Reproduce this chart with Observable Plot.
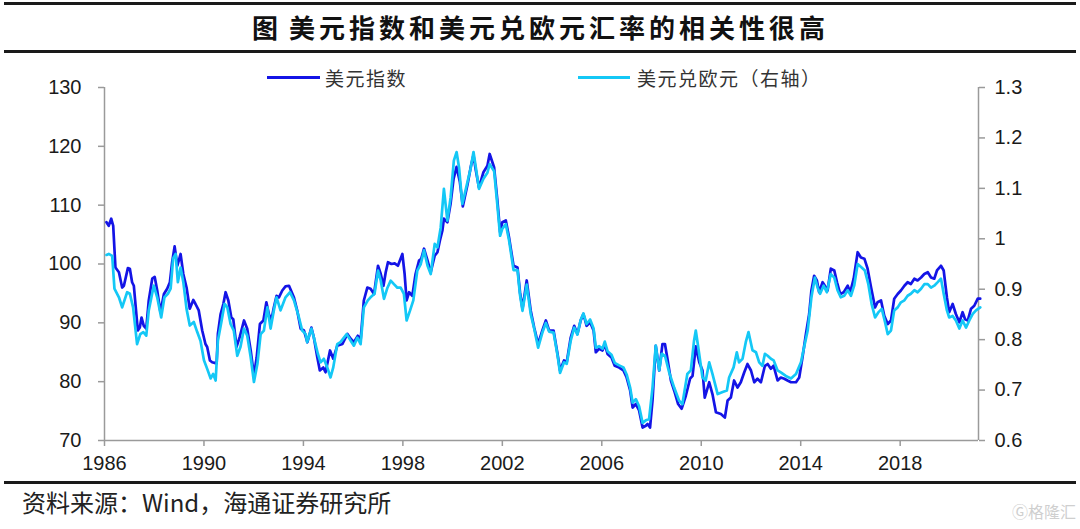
<!DOCTYPE html>
<html><head><meta charset="utf-8">
<script src="https://cdn.jsdelivr.net/npm/d3@7"></script>
<script src="https://cdn.jsdelivr.net/npm/@observablehq/plot@0.6"></script>
<style>
body{margin:0;background:#fff;}
#wrap{position:relative;width:1080px;height:529px;overflow:hidden;background:#fff;}
#wrap svg{position:absolute;left:0;top:0;}
.hl{position:absolute;background:#1a1a1a;}
.cjk{font-family:"Noto Sans CJK SC","Noto Sans",sans-serif;color:#222;white-space:nowrap;position:absolute;}
.leg{position:absolute;height:3px;}
</style></head>
<body><div id="wrap"></div>
<script>
// ---- data ----
const dxyYears = [1986.08,1986.17,1986.27,1986.35,1986.44,1986.58,1986.71,1986.78,1986.94,1987.02,1987.11,1987.18,1987.34,1987.42,1987.49,1987.58,1987.68,1987.78,1987.92,1988.02,1988.12,1988.25,1988.39,1988.52,1988.63,1988.72,1988.82,1988.93,1989.06,1989.17,1989.30,1989.43,1989.57,1989.66,1989.79,1989.93,1990.06,1990.13,1990.24,1990.33,1990.43,1990.51,1990.56,1990.67,1990.78,1990.87,1990.98,1991.10,1991.18,1991.31,1991.44,1991.61,1991.74,1991.88,1992.01,1992.12,1992.25,1992.39,1992.51,1992.61,1992.71,1992.81,1992.92,1993.01,1993.15,1993.28,1993.42,1993.62,1993.75,1993.89,1994.02,1994.16,1994.32,1994.42,1994.56,1994.66,1994.80,1994.89,1995.07,1995.20,1995.36,1995.57,1995.77,1995.90,1996.03,1996.19,1996.30,1996.43,1996.57,1996.70,1996.84,1997.00,1997.11,1997.22,1997.31,1997.40,1997.54,1997.67,1997.80,1997.98,1998.07,1998.15,1998.25,1998.38,1998.51,1998.65,1998.74,1998.85,1998.99,1999.12,1999.28,1999.39,1999.49,1999.59,1999.65,1999.79,1999.92,2000.04,2000.16,2000.29,2000.41,2000.60,2000.73,2000.84,2000.93,2001.06,2001.24,2001.40,2001.49,2001.67,2001.80,2001.91,2002.00,2002.14,2002.27,2002.45,2002.61,2002.71,2002.81,2002.98,2003.14,2003.28,2003.44,2003.61,2003.75,2003.88,2004.06,2004.22,2004.32,2004.48,2004.59,2004.75,2004.89,2005.02,2005.15,2005.26,2005.39,2005.53,2005.67,2005.76,2005.89,2006.03,2006.12,2006.23,2006.39,2006.52,2006.70,2006.87,2007.00,2007.14,2007.24,2007.37,2007.50,2007.64,2007.77,2007.84,2007.94,2008.04,2008.17,2008.31,2008.44,2008.54,2008.64,2008.78,2008.91,2009.07,2009.21,2009.38,2009.55,2009.65,2009.78,2009.92,2010.05,2010.14,2010.32,2010.45,2010.59,2010.79,2010.95,2011.06,2011.19,2011.32,2011.46,2011.59,2011.73,2011.86,2012.00,2012.13,2012.26,2012.40,2012.56,2012.67,2012.80,2012.91,2013.07,2013.20,2013.34,2013.47,2013.61,2013.81,2013.94,2014.07,2014.21,2014.34,2014.43,2014.54,2014.65,2014.74,2014.88,2014.97,2015.08,2015.21,2015.35,2015.46,2015.59,2015.73,2015.89,2015.99,2016.13,2016.29,2016.42,2016.56,2016.69,2016.83,2016.99,2017.09,2017.23,2017.36,2017.50,2017.63,2017.76,2017.90,2018.03,2018.17,2018.30,2018.43,2018.57,2018.70,2018.84,2018.97,2019.11,2019.24,2019.37,2019.48,2019.64,2019.75,2019.88,2019.97,2020.11,2020.24,2020.38,2020.51,2020.61,2020.72,2020.85,2020.98,2021.12,2021.22];
const dxyValues = [107.1,106.5,107.7,106.5,99.4,98.6,96.0,96.3,99.3,99.2,96.9,96.3,88.7,89.2,90.9,89.5,89.0,93.8,97.5,97.8,95.5,91.8,94.9,95.8,96.9,100.3,103.0,99.7,101.7,98.3,96.0,92.4,93.9,93.2,92.1,88.7,86.4,85.9,83.6,83.3,83.2,83.1,88.1,91.5,93.2,95.2,93.8,90.9,90.6,85.9,87.6,90.4,89.0,85.3,81.0,84.1,89.8,90.4,93.5,91.5,90.4,92.6,94.6,94.3,95.5,96.2,96.3,94.3,92.1,89.0,88.7,86.7,89.2,87.5,84.1,81.9,82.4,81.6,85.3,83.9,86.1,86.4,88.1,87.3,86.7,87.8,87.0,93.8,96.0,95.8,94.9,99.7,98.3,96.3,98.6,100.3,100.0,100.1,99.7,101.7,98.3,93.8,95.2,94.6,98.3,100.6,100.9,102.6,100.6,98.6,101.4,102.0,104.0,105.7,107.7,107.1,110.3,114.5,116.5,114.0,109.8,113.5,116.5,118.5,116.0,113.0,115.6,116.7,118.7,116.4,110.8,105.4,107.1,107.4,104.5,99.7,99.4,95.2,92.4,97.2,92.1,89.2,86.4,88.7,90.4,88.7,88.7,84.7,81.9,83.6,83.3,87.5,89.5,88.1,90.4,91.5,89.5,90.1,88.7,85.0,85.6,85.3,86.4,84.7,84.1,82.7,82.4,81.9,80.7,78.5,75.6,76.2,75.1,72.2,72.5,72.8,72.2,76.8,86.1,81.9,86.4,86.4,83.9,80.2,78.5,76.2,75.4,77.6,80.5,81.0,86.0,83.3,81.9,77.3,79.9,77.9,74.8,74.5,73.9,76.8,77.3,80.2,79.0,79.9,81.6,83.0,81.9,79.9,80.5,79.9,82.7,83.0,82.2,82.7,80.2,80.7,80.5,80.2,79.9,79.9,80.7,84.1,88.1,91.5,95.5,98.0,97.2,95.2,96.9,96.3,95.5,99.2,98.9,96.9,94.9,95.2,96.3,95.2,97.5,102.0,101.1,100.9,99.2,96.0,92.6,93.5,93.8,91.2,89.8,90.4,94.1,94.9,95.5,96.3,96.9,96.6,97.5,97.2,97.7,98.3,98.6,97.7,97.5,98.9,99.7,98.9,94.3,91.8,93.2,91.5,90.1,91.8,90.6,90.4,92.4,92.9,94.1,94.1];

const eurYears = [1986.08,1986.17,1986.31,1986.40,1986.58,1986.71,1986.91,1987.02,1987.15,1987.31,1987.44,1987.56,1987.68,1987.78,1987.98,1988.12,1988.28,1988.41,1988.55,1988.66,1988.76,1988.86,1988.95,1989.06,1989.17,1989.30,1989.43,1989.59,1989.73,1989.86,1990.00,1990.13,1990.27,1990.37,1990.47,1990.56,1990.70,1990.83,1990.94,1991.07,1991.20,1991.34,1991.47,1991.61,1991.74,1991.88,1992.01,1992.15,1992.28,1992.41,1992.55,1992.68,1992.81,1992.92,1993.08,1993.28,1993.46,1993.62,1993.82,1993.95,1994.09,1994.15,1994.32,1994.42,1994.58,1994.69,1994.82,1994.96,1995.09,1995.20,1995.36,1995.49,1995.74,1995.90,1996.03,1996.17,1996.30,1996.43,1996.59,1996.70,1996.86,1997.00,1997.11,1997.24,1997.38,1997.51,1997.64,1997.78,1997.91,1998.04,1998.15,1998.29,1998.42,1998.58,1998.72,1998.85,1998.99,1999.12,1999.28,1999.39,1999.52,1999.65,1999.79,1999.92,2000.05,2000.16,2000.26,2000.39,2000.52,2000.73,2000.84,2000.93,2001.06,2001.24,2001.40,2001.49,2001.67,2001.80,2001.91,2002.00,2002.14,2002.27,2002.45,2002.61,2002.71,2002.81,2002.98,2003.14,2003.28,2003.44,2003.61,2003.75,2003.88,2004.06,2004.22,2004.32,2004.48,2004.59,2004.75,2004.89,2005.02,2005.15,2005.26,2005.39,2005.53,2005.67,2005.76,2005.89,2006.03,2006.12,2006.23,2006.39,2006.52,2006.70,2006.87,2007.00,2007.14,2007.24,2007.37,2007.50,2007.64,2007.77,2007.90,2008.04,2008.17,2008.31,2008.41,2008.54,2008.71,2008.91,2009.11,2009.24,2009.44,2009.58,2009.71,2009.78,2009.87,2010.05,2010.18,2010.32,2010.45,2010.66,2010.86,2011.03,2011.12,2011.30,2011.43,2011.52,2011.66,2011.79,2011.90,2012.06,2012.20,2012.33,2012.46,2012.56,2012.67,2012.80,2012.91,2013.07,2013.20,2013.40,2013.61,2013.81,2014.01,2014.14,2014.28,2014.43,2014.57,2014.68,2014.78,2014.92,2015.05,2015.21,2015.35,2015.48,2015.61,2015.75,2015.89,2016.02,2016.15,2016.29,2016.45,2016.58,2016.72,2016.85,2016.99,2017.12,2017.26,2017.39,2017.50,2017.63,2017.76,2017.90,2018.03,2018.17,2018.30,2018.43,2018.57,2018.70,2018.84,2018.97,2019.11,2019.24,2019.37,2019.51,2019.64,2019.75,2019.88,2019.97,2020.11,2020.24,2020.38,2020.51,2020.65,2020.78,2020.92,2021.05,2021.22];
const eurValues = [0.968,0.970,0.966,0.901,0.884,0.864,0.894,0.891,0.864,0.791,0.811,0.815,0.808,0.858,0.907,0.884,0.844,0.884,0.891,0.901,0.961,0.970,0.914,0.943,0.914,0.861,0.828,0.835,0.815,0.798,0.759,0.742,0.723,0.732,0.719,0.798,0.835,0.871,0.864,0.831,0.818,0.768,0.786,0.822,0.808,0.765,0.716,0.752,0.811,0.818,0.864,0.822,0.858,0.884,0.858,0.884,0.894,0.878,0.844,0.818,0.811,0.795,0.822,0.804,0.772,0.755,0.762,0.745,0.725,0.745,0.791,0.795,0.811,0.798,0.788,0.804,0.791,0.864,0.878,0.884,0.891,0.937,0.917,0.881,0.903,0.917,0.910,0.903,0.903,0.891,0.838,0.858,0.878,0.937,0.950,0.977,0.947,0.930,0.990,0.983,1.022,1.099,1.036,1.082,1.155,1.172,1.141,1.069,1.096,1.141,1.172,1.143,1.099,1.119,1.131,1.148,1.134,1.067,1.006,1.020,1.029,0.997,0.938,0.938,0.889,0.857,0.909,0.851,0.822,0.784,0.814,0.833,0.816,0.814,0.769,0.734,0.755,0.752,0.798,0.824,0.810,0.839,0.852,0.831,0.840,0.822,0.784,0.787,0.782,0.796,0.777,0.770,0.754,0.749,0.745,0.731,0.705,0.675,0.682,0.668,0.635,0.640,0.642,0.705,0.788,0.739,0.772,0.768,0.735,0.705,0.679,0.672,0.732,0.739,0.798,0.818,0.788,0.725,0.719,0.755,0.732,0.692,0.696,0.699,0.725,0.745,0.775,0.755,0.762,0.795,0.815,0.779,0.775,0.755,0.748,0.772,0.768,0.762,0.759,0.739,0.735,0.728,0.723,0.732,0.755,0.786,0.818,0.884,0.923,0.903,0.891,0.907,0.894,0.930,0.923,0.898,0.884,0.887,0.898,0.887,0.907,0.950,0.943,0.937,0.910,0.871,0.844,0.854,0.861,0.835,0.811,0.818,0.858,0.864,0.874,0.878,0.887,0.891,0.898,0.894,0.901,0.910,0.910,0.903,0.907,0.914,0.921,0.891,0.858,0.844,0.847,0.838,0.822,0.838,0.824,0.838,0.851,0.858,0.864];

const xTicks = [1986,1990,1994,1998,2002,2006,2010,2014,2018];
const leftTicks = [70,80,90,100,110,120,130];
const rightTicks = [0.6,0.7,0.8,0.9,1.0,1.1,1.2,1.3];
const seriesNames = ["美元指数","美元兑欧元（右轴）"];
const titleText = "美元指数和美元兑欧元汇率的相关性很高";
const sourceText = "资料来源：Wind，海通证券研究所";

// ---- build ----
const leftDomain = [70,130], rightDomain = [0.6,1.3];
const toLeft = e => leftDomain[0] + (e - rightDomain[0]) * (leftDomain[1]-leftDomain[0])/(rightDomain[1]-rightDomain[0]);
const dxy = dxyYears.map((t,i)=>({t, v: dxyValues[i]}));
const eur = eurYears.map((t,i)=>({t, e: eurValues[i]}));
const xEnd = 2021.15;
const DARK = "#1414e6", CYAN = "#14c8f6", AX = "#9a9a9a";

const chart = Plot.plot({
  width:1080, height:529,
  marginTop:87, marginBottom:89, marginLeft:104, marginRight:102,
  style:{fontFamily:"'Liberation Sans Narrow','Liberation Sans',Arial,sans-serif", fontSize:"20px", color:"#1a1a1a", background:"transparent"},
  x:{domain:[1986,xEnd], axis:null},
  y:{domain:leftDomain, axis:null},
  marks:[
    Plot.ruleX([1986],{stroke:AX, strokeWidth:1.5}),
    Plot.ruleX([xEnd],{stroke:AX, strokeWidth:1.5}),
    Plot.ruleY([70],{stroke:AX, strokeWidth:1.5}),
    Plot.axisX({ticks:xTicks, tickFormat:d=>String(d), label:null, tickSize:6, tickPadding:9, stroke:AX, strokeWidth:1.5, fill:"#1a1a1a", fontSize:20}),
    Plot.axisY({anchor:"left", ticks:leftTicks, tickFormat:d=>String(d), label:null, tickSize:6, tickPadding:17, stroke:AX, strokeWidth:1.5, fill:"#1a1a1a", fontSize:20}),
    Plot.axisY({anchor:"right", ticks:rightTicks.map(toLeft), tickFormat:(d,i)=>String(+rightTicks[i].toFixed(1)), label:null, tickSize:6, tickPadding:10, stroke:AX, strokeWidth:1.5, fill:"#1a1a1a", fontSize:20}),
    Plot.line(dxy,{x:"t", y:"v", stroke:DARK, strokeWidth:2.7, strokeLinejoin:"round"}),
    Plot.line(eur,{x:"t", y:d=>toLeft(d.e), stroke:CYAN, strokeWidth:2.7, strokeLinejoin:"round"})
  ]
});
const wrap = document.getElementById("wrap");
wrap.appendChild(chart);

function div(cls, css, html){const d=document.createElement("div"); d.className=cls; d.style.cssText=css; if(html!==undefined) d.textContent=html; wrap.appendChild(d); return d;}
// rules
div("hl","left:4px;right:4px;top:2px;height:3px;");
div("hl","left:4px;right:4px;top:50px;height:2.5px;");
div("hl","left:4px;right:4px;top:481px;height:2.5px;");
// title
div("cjk","left:252px;top:8px;font-size:26px;font-weight:700;letter-spacing:4px;line-height:38px;color:#111;", "图");
div("cjk","left:289px;top:8px;font-size:26px;font-weight:700;letter-spacing:4px;line-height:38px;color:#111;", titleText);
// legend
div("leg",`left:267px;top:76px;width:53px;background:${DARK};`);
div("cjk","left:325px;top:64px;font-size:19px;letter-spacing:1.5px;line-height:27px;color:#333;", seriesNames[0]);
div("leg",`left:578px;top:76px;width:52px;background:${CYAN};`);
div("cjk","left:637px;top:64px;font-size:19px;letter-spacing:1.5px;line-height:27px;color:#333;", seriesNames[1]);
// source
div("cjk","left:22px;top:487px;font-size:24px;line-height:30px;color:#222;", sourceText);
// watermark
div("cjk","left:1012px;top:500px;font-size:16px;line-height:22px;color:#cfcfcf;", "Ⓖ格隆汇");
</script>
</body></html>
